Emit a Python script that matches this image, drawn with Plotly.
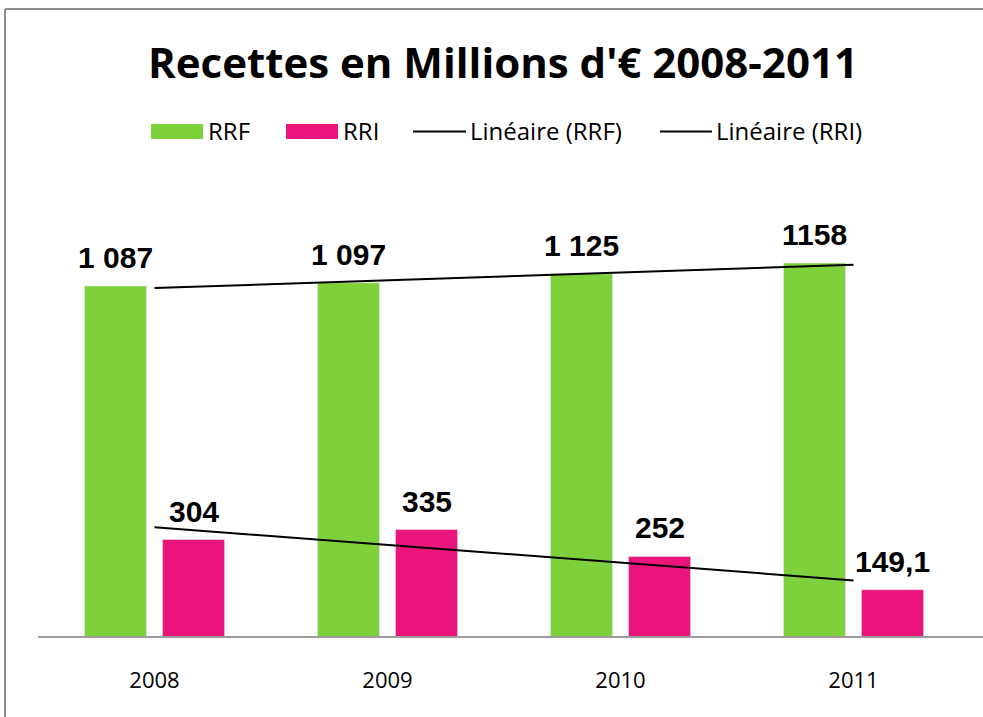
import numpy as np
import plotly.graph_objects as go

years = ["2008", "2009", "2010", "2011"]
rrf = [1087, 1097, 1125, 1158]
rri = [304, 335, 252, 149.1]
rrf_labels = ["1 087", "1 097", "1 125", "1158"]
rri_labels = ["304", "335", "252", "149,1"]

GREEN = "#7FD13B"
PINK = "#EA157A"

W, H = 983, 717
ML, MR, MT, MB = 38, 13, 150, 79
PW, PH = W - ML - MR, H - MT - MB


def px(x):
    return (x - ML) / PW


def py(y):
    return (H - MB - y) / PH


xi = np.arange(1, len(years) + 1)
trend_rrf = np.polyval(np.polyfit(xi, rrf, 1), xi)
trend_rri = np.polyval(np.polyfit(xi, rri, 1), xi)

fig = go.Figure()
fig.add_trace(go.Bar(x=years, y=rrf, name="RRF", marker_color=GREEN, showlegend=False))
fig.add_trace(go.Bar(x=years, y=rri, name="RRI", marker_color=PINK, showlegend=False))
fig.add_trace(go.Scatter(x=years, y=trend_rrf, mode="lines", name="Linéaire (RRF)",
                         line=dict(color="black", width=2), showlegend=False))
fig.add_trace(go.Scatter(x=years, y=trend_rri, mode="lines", name="Linéaire (RRI)",
                         line=dict(color="black", width=2), showlegend=False))

label_font = dict(family="Liberation Sans, Arial", size=30, color="black")
annotations = []
for i, (v, t) in enumerate(zip(rrf, rrf_labels)):
    annotations.append(dict(x=i, y=v, xref="x", yref="y", text="<b>%s</b>" % t, showarrow=False,
                            xshift=-39, yshift=10, yanchor="bottom", font=label_font))
for i, (v, t) in enumerate(zip(rri, rri_labels)):
    annotations.append(dict(x=i, y=v, xref="x", yref="y", text="<b>%s</b>" % t, showarrow=False,
                            xshift=39, yshift=10, yanchor="bottom", font=label_font))

# title
annotations.append(dict(x=px(503), y=py(61), xref="paper", yref="paper",
                        text="<b>Recettes en Millions d'€ 2008-2011</b>", showarrow=False,
                        xanchor="center", yanchor="middle",
                        font=dict(family="Open Sans", size=42, color="black")))

# legend
leg_font = dict(family="Open Sans", size=24, color="black")
shapes = []
legend_items = [
    ("rect", GREEN, 151, 203, "RRF", 206),
    ("rect", PINK, 286, 338, "RRI", 341),
    ("line", "black", 413, 466, "Linéaire (RRF)", 468),
    ("line", "black", 660, 712, "Linéaire (RRI)", 714),
]
for kind, col, x0, x1, txt, tx in legend_items:
    if kind == "rect":
        shapes.append(dict(type="rect", xref="paper", yref="paper", x0=px(x0), x1=px(x1),
                           y0=py(139), y1=py(124), fillcolor=col, line=dict(width=0)))
    else:
        shapes.append(dict(type="line", xref="paper", yref="paper", x0=px(x0), x1=px(x1),
                           y0=py(131.5), y1=py(131.5), line=dict(color=col, width=2)))
    annotations.append(dict(x=px(tx), y=py(130), xref="paper", yref="paper", text=txt,
                            showarrow=False, xanchor="left", yanchor="middle", font=leg_font))

# frame
shapes.append(dict(type="line", xref="paper", yref="paper", x0=px(5), x1=px(5),
                   y0=py(9), y1=py(717), line=dict(color="#8C8C8C", width=2)))
shapes.append(dict(type="line", xref="paper", yref="paper", x0=px(5), x1=px(983),
                   y0=py(9), y1=py(9), line=dict(color="#8C8C8C", width=2)))
# baseline (category axis line) extending to the right edge
shapes.append(dict(type="line", xref="paper", yref="paper", x0=0, x1=px(983),
                   y0=py(637), y1=py(637), line=dict(color="#9A9A9A", width=2), layer="above"))

fig.update_layout(
    width=W, height=H,
    margin=dict(l=ML, r=MR, t=MT, b=MB),
    paper_bgcolor="white", plot_bgcolor="white",
    barmode="group", bargap=0.33, bargroupgap=0.205,
    annotations=annotations, shapes=shapes,
    showlegend=False,
    xaxis=dict(type="category", range=[-0.5, 3.5], showgrid=False, zeroline=False,
               showline=False, ticks="",
               tickfont=dict(family="Open Sans", size=22, color="black"),
               ticklabelstandoff=27),
    yaxis=dict(range=[0, 1507], visible=False, showgrid=False, zeroline=False),
)

fig.write_html("out.html", config={"displayModeBar": False},
               post_script="document.body.style.margin='0';document.body.style.overflow='hidden';")
